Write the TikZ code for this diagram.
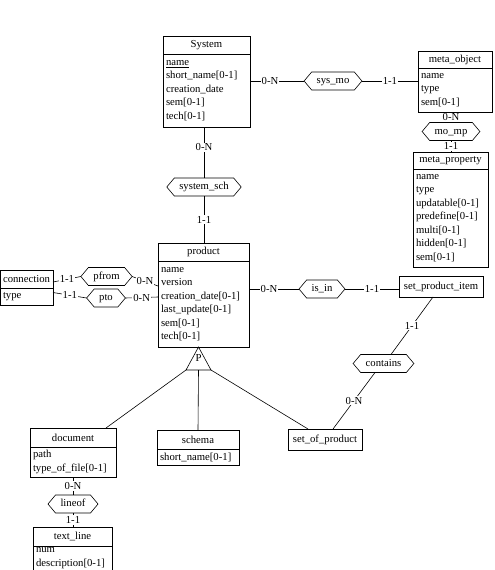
\documentclass[tikz,border=0pt]{standalone}
\usepackage{fontspec}
\setmainfont{Liberation Serif}
\usetikzlibrary{shapes.symbols}
\begin{document}
\begin{tikzpicture}[x=1pt,y=-1pt]
\tikzset{
 fnt/.style={font=\fontsize{10.7}{13.5}\selectfont},
 etitle/.style={draw, fnt, inner sep=0pt, outer sep=0pt, anchor=north west, line width=0.6pt},
 eattr/.style={draw, fnt, inner xsep=3pt, inner ysep=0pt, outer sep=0pt, align=left, anchor=north west, line width=0.6pt},
 rel/.style={draw, fnt, shape=signal, signal to=west and east, signal pointer angle=100, inner xsep=5pt, inner ysep=4.5pt, outer sep=0pt, text height=7pt, text depth=2pt, line width=0.6pt},
 card/.style={fill=white, fnt, inner sep=1pt},
 link/.style={draw, line width=0.6pt}
}
\useasboundingbox (0,0) rectangle (495,570);

% entities
\node[etitle, minimum width=87pt, minimum height=18pt] (sys) at (163,36) {System};
\node[eattr, text width=81pt, minimum height=73pt] (sys-a) at (sys.south west) {\underline{name}\\short\_name[0-1]\\creation\_date\\sem[0-1]\\tech[0-1]};

\node[etitle, minimum width=74pt, minimum height=17pt] (mo) at (418,51) {meta\_object};
\node[eattr, text width=68pt, minimum height=44pt] (mo-a) at (mo.south west) {name\\type\\sem[0-1]};

\node[etitle, minimum width=75pt, minimum height=17pt] (mp) at (413,152) {meta\_property};
\node[eattr, text width=69pt, minimum height=98pt] (mp-a) at (mp.south west) {name\\type\\updatable[0-1]\\predefine[0-1]\\multi[0-1]\\hidden[0-1]\\sem[0-1]};

\node[etitle, minimum width=91pt, minimum height=18pt] (prod) at (158,243) {product};
\node[eattr, text width=85pt, minimum height=86pt] (prod-a) at (prod.south west) {name\\version\\creation\_date[0-1]\\last\_update[0-1]\\sem[0-1]\\tech[0-1]};

\node[etitle, minimum width=53pt, minimum height=18pt] (conn) at (0,270) {connection};
\node[eattr, text width=47pt, minimum height=17pt] (conn-a) at (conn.south west) {type};

\node[etitle, minimum width=86pt, minimum height=19pt] (doc) at (30,428) {document};
\node[eattr, text width=80pt, minimum height=30pt] (doc-a) at (doc.south west) {path\\type\_of\_file[0-1]};

\node[etitle, minimum width=82pt, minimum height=19pt] (sch) at (157,430) {schema};
\node[eattr, text width=76pt, minimum height=16pt] (sch-a) at (sch.south west) {short\_name[0-1]};

\node[etitle, minimum width=79pt, minimum height=19pt] (tl) at (33,527) {text\_line};
\node[eattr, draw=none, text width=73pt, minimum height=24pt] (tl-a) at (tl.south west) {num\\description[0-1]};
\draw[link] (tl.south west) -- ++(0,30);
\draw[link] (tl.south east) -- ++(0,30);

\node[etitle, minimum width=74pt, minimum height=21pt] (sop) at (288,429) {set\_of\_product};
\node[etitle, minimum width=84pt, minimum height=21pt] (spi) at (399,276) {set\_product\_item};

% relationships
\node[rel] (sysmo) at (333,81) {sys\_mo};
\node[rel] (syssch) at (204,187) {system\_sch};
\node[rel] (momp) at (451,131.5) {mo\_mp};
\node[rel] (pfrom) at (106.5,276.5) {pfrom};
\node[rel] (pto) at (106,298) {pto};
\node[rel] (isin) at (322,289) {is\_in};
\node[rel] (contains) at (383.5,363.5) {contains};
\node[rel] (lineof) at (73,504) {lineof};

% connectors
\draw[link] (sys-a.east |- sysmo.west) -- node[card, pos=0.37]{0-N} (sysmo.west);
\draw[link] (sysmo.east) -- node[card]{1-1} (sysmo.east -| mo-a.west);
\draw[link] (mo-a.south -| momp.north) -- node[card]{0-N} (momp.north);
\draw[link] (momp.south) -- node[card]{1-1} (momp.south |- mp.north);
\draw[link] (syssch.north) -- node[card, pos=0.6]{0-N} (syssch.north |- sys-a.south);
\draw[link] (syssch.south) -- node[card]{1-1} (syssch.south |- prod.north);
\draw[link] (prod-a.east |- isin.west) -- node[card, pos=0.4]{0-N} (isin.west);
\draw[link] (isin.east) -- node[card]{1-1} (isin.east -| spi.west);
\draw[link] ([xshift=-8pt]spi.south) -- node[card]{1-1} ([xshift=7.5pt]contains.north);
\draw[link] ([xshift=-8.5pt]contains.south) -- node[card]{0-N} ([xshift=8pt]sop.north);
\draw[link] ([yshift=-3pt]conn.east) -- node[card]{1-1} (pfrom.west);
\draw[link] (pfrom.east) -- node[card]{0-N} ([yshift=18pt]prod-a.west);
\draw[link] ([yshift=4pt]conn-a.east) -- node[card]{1-1} (pto.west);
\draw[link] (pto.east) -- node[card]{0-N} ([yshift=7pt]prod-a.west);
\draw[link] (lineof.north) -- node[card]{0-N} (lineof.north |- doc-a.south);
\draw[link] (lineof.south) -- node[card]{1-1} (lineof.south |- tl.north);

% specialisation triangle
\coordinate (tapex) at ([xshift=-5pt]prod-a.south);
\coordinate (tleft) at ([shift={(-12.5,23)}]tapex);
\coordinate (tright) at ([shift={(12.5,23)}]tapex);
\coordinate (tbase) at ([shift={(0,23)}]tapex);
\draw[link, fill=white] (tapex) -- (tleft) -- (tright) -- cycle;
\node[fnt, inner sep=0pt] (plabel) at ([yshift=-11pt]tapex) {P};
\draw[link] (tleft) -- ([xshift=33pt]doc.north);
\draw[link] (tbase) -- (sch.north);
\draw[link] (tright) -- ([xshift=-17pt]sop.north);
\end{tikzpicture}
\end{document}
